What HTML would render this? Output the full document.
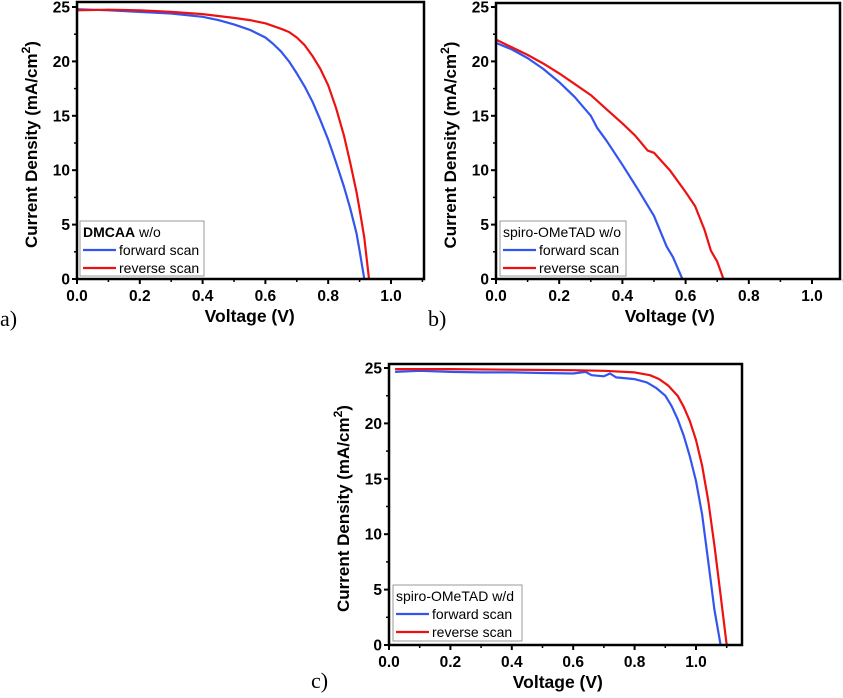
<!DOCTYPE html>
<html><head><meta charset="utf-8"><style>
body{margin:0;background:#fff;width:843px;height:693px;overflow:hidden}
</style></head><body>
<svg id="fig" width="843" height="693" viewBox="0 0 843 693" xmlns="http://www.w3.org/2000/svg" style="font-family:'Liberation Sans',Arial,sans-serif"></svg>
<script>
const aFwdV=[0,0.1,0.2,0.3,0.4,0.45,0.5,0.55,0.6,0.625,0.65,0.675,0.7,0.725,0.75,0.775,0.8,0.825,0.85,0.87,0.89,0.9,0.915];
const aFwdJ=[24.8,24.7,24.55,24.4,24.1,23.8,23.4,22.9,22.2,21.6,20.9,20.0,18.9,17.7,16.3,14.6,12.8,10.7,8.5,6.5,4.2,2.6,0];
const aRevV=[0,0.1,0.2,0.3,0.4,0.5,0.55,0.6,0.65,0.675,0.7,0.725,0.75,0.775,0.8,0.825,0.85,0.87,0.89,0.9,0.915,0.93];
const aRevJ=[24.7,24.75,24.7,24.55,24.35,24.0,23.8,23.5,23.0,22.7,22.2,21.5,20.5,19.3,17.8,15.7,13.2,10.7,8.0,6.4,3.8,0];
const bFwdV=[0,0.05,0.1,0.15,0.2,0.25,0.3,0.32,0.35,0.4,0.45,0.5,0.54,0.56,0.59];
const bFwdJ=[21.7,21.1,20.3,19.3,18.1,16.7,15.0,13.9,12.7,10.5,8.2,5.8,3.0,2.0,0];
const bRevV=[0,0.05,0.1,0.15,0.2,0.25,0.3,0.35,0.4,0.44,0.48,0.5,0.55,0.6,0.63,0.66,0.68,0.7,0.72];
const bRevJ=[22.0,21.3,20.6,19.8,18.9,17.9,16.9,15.6,14.3,13.2,11.8,11.6,10.0,8.0,6.7,4.5,2.6,1.6,0];
const cFwdV=[0.02,0.1,0.2,0.3,0.4,0.5,0.6,0.64,0.66,0.7,0.72,0.74,0.8,0.84,0.87,0.9,0.92,0.94,0.96,0.98,1.0,1.02,1.04,1.06,1.08];
const cFwdJ=[24.65,24.75,24.65,24.6,24.6,24.55,24.5,24.65,24.35,24.25,24.5,24.15,24.0,23.7,23.2,22.5,21.6,20.4,18.9,17.0,14.8,11.8,7.5,3.2,0];
const cRevV=[0.02,0.2,0.4,0.6,0.7,0.8,0.85,0.88,0.91,0.94,0.96,0.98,1.0,1.02,1.04,1.06,1.08,1.1];
const cRevJ=[24.9,24.9,24.85,24.8,24.75,24.6,24.35,24.0,23.4,22.5,21.5,20.2,18.5,16.2,13.0,9.0,4.5,0];
const xTicks=[0,0.2,0.4,0.6,0.8,1.0];
const xTickLabels=["0.0","0.2","0.4","0.6","0.8","1.0"];
const yTicks=[0,5,10,15,20,25];
const yTickLabels=["0","5","10","15","20","25"];

const NS="http://www.w3.org/2000/svg";
const svg=document.getElementById('fig');
function mk(t,a,p){const e=document.createElementNS(NS,t);for(const k in a)e.setAttribute(k,a[k]);(p||svg).appendChild(e);return e;}

function panel(id,P,fv,fj,rv,rj,legTitle,legBold,leg,lbl){
  const g=mk('g',{});
  
  
  const X=v=>P.x0+v*(P.x1v-P.x0);
  const Y=j=>P.y0-j*(P.y0-P.y25)/25;
  for(let v=0.1;v<1.1;v+=0.2){const t=mk('line',{x1:X(v),x2:X(v),y1:P.y0,y2:P.y0+3,stroke:'#000','stroke-width':1.5},g);}
  for(let j=2.5;j<25;j+=5){const t=mk('line',{x1:P.x0-3,x2:P.x0,y1:Y(j),y2:Y(j),stroke:'#000','stroke-width':1.5},g);}
  xTicks.forEach((v,i)=>{
    const t=mk('line',{x1:X(v),x2:X(v),y1:P.y0,y2:P.y0+5,stroke:'#000','stroke-width':2},g);
    
    const l=mk('text',{x:X(v),y:P.y0+22,'text-anchor':'middle','font-size':15.5,'font-weight':'bold'},g);
    l.textContent=xTickLabels[i];
    
  });
  yTicks.forEach((j,i)=>{
    const t=mk('line',{x1:P.x0-5,x2:P.x0,y1:Y(j),y2:Y(j),stroke:'#000','stroke-width':2},g);
    
    const l=mk('text',{x:P.x0-7,y:Y(j)+5.5,'text-anchor':'end','font-size':15.5,'font-weight':'bold'},g);
    l.textContent=yTickLabels[i];
    
  });
  const path=(vs,js,c,n)=>{const d=vs.map((v,i)=>(i?'L':'M')+X(v).toFixed(1)+','+Y(js[i]).toFixed(1)).join('');
    const p=mk('path',{d:d,fill:'none',stroke:c,'stroke-width':2.2,'stroke-linejoin':'round'},g);
    };
  path(fv,fj,'#3355ee','forward-scan-line');
  path(rv,rj,'#ee1111','reverse-scan-line');
  const f=mk('rect',{x:P.x0,y:P.top,width:P.right-P.x0,height:P.y0-P.top,fill:'none',stroke:'#000','stroke-width':2.5},g);
  
  const L=leg;
  const lg=mk('g',{},g);
  
  mk('rect',{x:L.x,y:L.y,width:L.w,height:L.h,fill:'#fff',stroke:'#999','stroke-width':1},lg);
  const tt=mk('text',{x:L.x+3,y:L.y+16,'font-size':14},lg);
  if(legBold){const b=mk('tspan',{'font-weight':'bold'},tt);b.textContent=legBold;const s=mk('tspan',{},tt);s.textContent=' '+legTitle;}
  else tt.textContent=legTitle;
  
  [['#3355ee','forward scan',34],['#ee1111','reverse scan',52]].forEach(e=>{
    const ln=mk('line',{x1:L.x+3,x2:L.x+36,y1:L.y+e[2]-5,y2:L.y+e[2]-5,stroke:e[0],'stroke-width':2.2},lg);
    
    const t=mk('text',{x:L.x+39,y:L.y+e[2],'font-size':14},lg);t.textContent=e[1];
    
  });
  const xt=mk('text',{x:(P.x0+X(1.1))/2,y:P.y0+43,'text-anchor':'middle','font-size':17.5,'font-weight':'bold'},g);
  xt.textContent='Voltage (V)';
  const yc=(P.y0+P.top)/2+4;
  const yt=mk('text',{x:P.x0-40,y:yc,'text-anchor':'middle','font-size':17,'font-weight':'bold',transform:`rotate(-90 ${P.x0-40} ${yc})`},g);
  yt.textContent='Current Density (mA/cm';const sup=mk('tspan',{'font-size':12,dy:-7},yt);sup.textContent='2';const cl=mk('tspan',{dy:7},yt);cl.textContent=')';
  
  const pl=mk('text',{x:lbl.x,y:lbl.y,'font-size':22,style:"font-family:'Liberation Serif',serif"},g);
  pl.textContent=lbl.t;
}
panel('a',{x0:77,x1v:391,y0:279,y25:7,top:2,right:424},aFwdV,aFwdJ,aRevV,aRevJ,'w/o','DMCAA',{x:80,y:221,w:124,h:55},{x:0,y:326,t:'a)'});
panel('b',{x0:496,x1v:812,y0:279,y25:7,top:3,right:840},bFwdV,bFwdJ,bRevV,bRevJ,'spiro-OMeTAD w/o',null,{x:500,y:221,w:126,h:55},{x:428,y:326,t:'b)'});
panel('c',{x0:389,x1v:696,y0:645,y25:368,top:364,right:742},cFwdV,cFwdJ,cRevV,cRevJ,'spiro-OMeTAD w/d',null,{x:393,y:585,w:129,h:56},{x:311,y:688,t:'c)'});
</script>
</body></html>
